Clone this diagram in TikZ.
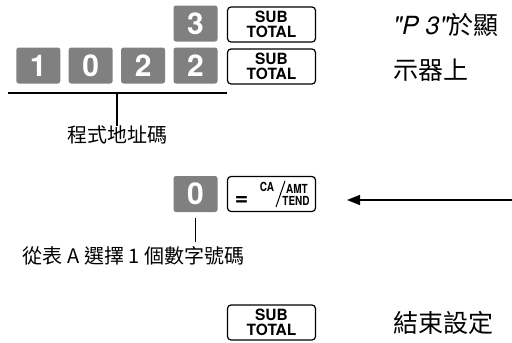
\documentclass[tikz,border=0pt]{standalone}
\usepackage{fontspec}
\setsansfont{TeX Gyre Heros}
\newfontfamily\cjk{Noto Sans CJK TC}
\usepackage{tikz}
\usetikzlibrary{arrows.meta,positioning}
\definecolor{keygray}{RGB}{128, 128, 128}
\newcommand{\narrow}[1]{\scalebox{0.8}[1]{#1}}

\begin{document}
\begin{tikzpicture}[
    x=1pt, y=-1pt,
    node distance=8pt,
    digitkey/.style={rectangle, rounded corners=2.5pt, fill=keygray,
        text=white, minimum width=44pt, minimum height=36pt, inner sep=0pt,
        font=\sffamily\bfseries\fontsize{30}{30}\selectfont},
    fnkey/.style={rectangle, rounded corners=3.5pt, draw=black, line width=1.2pt,
        minimum width=88pt, minimum height=35pt, inner sep=0pt, align=center,
        font=\sffamily\bfseries\fontsize{15.5}{15.5}\selectfont},
    keytext/.style={inner sep=0pt, font=\sffamily\bfseries\fontsize{12.5}{12.5}\selectfont},
    note/.style={anchor=west, inner sep=0pt, font=\cjk\fontsize{25}{34}\selectfont},
    caption/.style={inner sep=0pt, font=\cjk\fontsize{20}{20}\selectfont},
    bar/.style={line width=1.5pt},
    arrow/.style={-{Triangle[length=13pt, width=10pt]}, line width=1.5pt}
]
\useasboundingbox (0,0) rectangle (512,343);

% step 1: program address
\node[digitkey] (three) at (195.5,23.5) {3};
\node[fnkey] (subA) at (271.5,24.5) {SUB\\TOTAL};
\node[digitkey] (twoB) at (195.5,65.5) {2};
\node[digitkey, left=of twoB] (twoA) {2};
\node[digitkey, left=of twoA] (zero) {0};
\node[digitkey, left=of zero] (one) {1};
\node[fnkey] (subB) at (271.5,66.5) {SUB\\TOTAL};
\coordinate (brL) at (8,93);
\coordinate (brR) at (227,93);
\coordinate (brM) at (117,93);
\node[caption] (addr) at (117,135) {程式地址碼};
\node[note] (disp) at (393,25) {{\sffamily\itshape\textquotedbl P 3\textquotedbl}於顯};
\node[note] (disp2) at (393,70) {示器上};

\draw[bar] (brL) -- (brR);
\draw[bar] (brM) -- (addr.north);

% step 2: select number
\node[digitkey] (sel) at (195.5,194) {0};
\node[fnkey] (cash) at (271.5,194) {};
\node[inner sep=0pt, font=\sffamily\bfseries\fontsize{23}{23}\selectfont] (eq) at (241.5,201) {=};
\node[keytext] (ca) at (267,187) {\narrow{CA}};
\node[keytext] (amt) at (297,188.5) {\narrow{AMT}};
\node[keytext] (tend) at (296,201) {\narrow{TEND}};
\coordinate (slashB) at (276,207);
\coordinate (slashT) at (285,181);
\coordinate (back) at (512,200);
\coordinate (selT) at (195.5,218);
\coordinate (selB) at (195.5,242);
\node[caption] (pick) at (133.5,256) {從表 A 選擇 1 個數字號碼};

\draw[line width=1pt] (slashB) -- (slashT);
\draw[arrow] (back) -- (347,200);
\draw[bar] (selT) -- (selB);

% step 3: finish
\node[fnkey] (subC) at (271.5,322.5) {SUB\\TOTAL};
\node[note] (done) at (393,323) {結束設定};

\end{tikzpicture}
\end{document}
